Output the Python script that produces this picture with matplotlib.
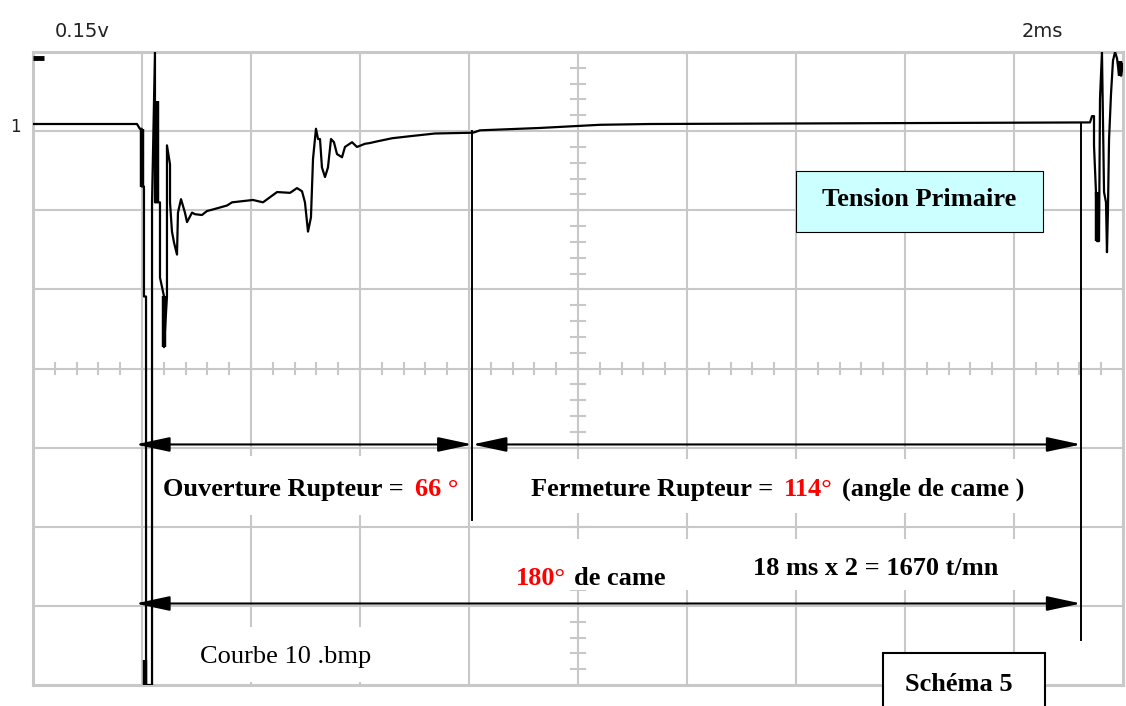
import matplotlib
matplotlib.use('Agg')
import matplotlib.pyplot as plt
from matplotlib.patches import Rectangle
import numpy as np

plt.rcParams['font.family'] = ['Liberation Serif', 'DejaVu Serif']

# ===== oscilloscope trace (in screen divisions: 10 x 8) =====
trace_x = [0.00, 0.954, 0.98, 0.997, 0.997, 1.018, 1.018, 1.037, 1.037, 1.092,
           1.092, 1.119, 1.119, 1.165, 1.165, 1.202, 1.202, 1.229, 1.229, 1.257,
           1.257, 1.275, 1.294, 1.321, 1.330, 1.358, 1.394, 1.413, 1.459, 1.486,
           1.550, 1.596, 1.651, 1.780, 1.826, 2.018, 2.110, 2.239, 2.358, 2.422,
           2.468, 2.495, 2.523, 2.550, 2.569, 2.596, 2.615, 2.633, 2.651, 2.679,
           2.706, 2.734, 2.761, 2.789, 2.835, 2.862, 2.927, 2.972, 3.046, 3.092,
           3.156, 3.294, 3.486, 3.688, 4.037, 4.101, 4.651, 5.202, 5.661, 9.697,
           9.716, 9.734, 9.734, 9.752, 9.761, 9.780, 9.789, 9.807, 9.826, 9.844,
           9.853, 9.862, 9.872, 9.890, 9.908, 9.927, 9.945, 9.963, 9.982, 10.0]
trace_y = [7.09, 7.09, 7.03, 7.03, 6.30, 6.30, 4.91, 4.91, 0.00, 0.00,
           6.10, 8.00, 6.10, 6.10, 5.15, 4.91, 4.27, 4.91, 6.82, 6.58,
           6.10, 5.73, 5.59, 5.44, 5.97, 6.14, 5.97, 5.85, 5.97, 5.95,
           5.94, 5.99, 6.01, 6.06, 6.10, 6.13, 6.10, 6.23, 6.22, 6.28,
           6.24, 6.10, 5.73, 5.91, 6.65, 7.03, 6.90, 6.90, 6.54, 6.42,
           6.54, 6.90, 6.86, 6.71, 6.67, 6.80, 6.86, 6.80, 6.84, 6.85,
           6.87, 6.91, 6.94, 6.97, 6.98, 7.01, 7.04, 7.08, 7.09, 7.11,
           7.19, 7.19, 6.82, 6.23, 5.61, 5.61, 7.41, 8.00, 6.23, 6.10,
           5.47, 6.01, 6.90, 7.47, 7.89, 8.00, 7.92, 7.72, 7.70, 7.85]

# segments épais de la trace (points superposés de l'écran)
thick_x = [1.000, 1.138, 1.200, 1.028, 9.761, 9.970]
thick_y0 = [6.30, 6.10, 4.27, 0.00, 5.61, 7.70]
thick_y1 = [7.03, 7.38, 4.91, 0.32, 6.23, 7.89]

# annotation positions (divisions)
t_open = 0.94      # rupture
t_close = 4.03     # fermeture
t_end = 9.615      # fin de cycle
y_arrow_top = 3.04
y_arrow_bottom = 1.03

fig = plt.figure(figsize=(11.26, 7.06), dpi=100)
ax = fig.add_axes([33 / 1126, 21 / 706, 1090 / 1126, 633 / 706])
ax.set_xlim(0, 10)
ax.set_ylim(0, 8)
ax.set_xticks([])
ax.set_yticks([])
for s in ax.spines.values():
    s.set_color('#c8c8c8')
    s.set_linewidth(2.2)

grid_c = '#c8c8c8'
for gx in range(1, 10):
    ax.axvline(gx, color=grid_c, lw=1.5, zorder=1)
for gy in range(1, 8):
    ax.axhline(gy, color=grid_c, lw=1.5, zorder=1)
# graduations de l'axe central
for mx in np.arange(0.2, 10, 0.2):
    ax.plot([mx, mx], [3.925, 4.075], color=grid_c, lw=1.5, zorder=1)
for my in np.arange(0.2, 8, 0.2):
    ax.plot([4.935, 5.065], [my, my], color=grid_c, lw=1.5, zorder=1)

# fonds blancs derrière les textes
for (x0, x1, y0, y1) in [(1.07, 3.99, 2.15, 2.89), (4.10, 9.56, 2.18, 2.85),
                         (4.28, 9.56, 1.20, 1.84), (1.17, 3.92, 0.04, 0.73)]:
    ax.add_patch(Rectangle((x0, y0), x1 - x0, y1 - y0, facecolor='white',
                           edgecolor='none', zorder=1.5))

ax.plot(trace_x, trace_y, color='black', lw=1.6, zorder=3)
ax.vlines(thick_x, thick_y0, thick_y1, color='black', lw=3.2, zorder=3)
ax.plot([0.0, 0.1], [7.92, 7.92], color='black', lw=3.5, zorder=3, solid_capstyle='butt')

# repères verticaux
ax.plot([t_close, t_close], [7.0, 2.09], color='black', lw=1.4, zorder=3)
ax.plot([t_end, t_end], [7.1, 0.57], color='black', lw=1.4, zorder=3)

arrow_kw = dict(arrowstyle='<|-|>,head_length=2.1,head_width=0.45', color='black',
                lw=1.5, shrinkA=0, shrinkB=0, mutation_scale=10)
ax.annotate('', xy=(t_open, y_arrow_top), xytext=(t_close, y_arrow_top),
            arrowprops=arrow_kw, zorder=4)
ax.annotate('', xy=(t_close, y_arrow_top), xytext=(t_end, y_arrow_top),
            arrowprops=arrow_kw, zorder=4)
ax.annotate('', xy=(t_open, y_arrow_bottom), xytext=(t_end, y_arrow_bottom),
            arrowprops=arrow_kw, zorder=4)

fs = 19
tk = dict(fontsize=fs, fontweight='bold', va='baseline', ha='left', zorder=5)
ax.text(1.193, 2.392, 'Ouverture Rupteur =', color='black', **tk)
ax.text(3.505, 2.392, '66 °', color='red', **tk)
ax.text(4.569, 2.392, 'Fermeture Rupteur =', color='black', **tk)
ax.text(6.890, 2.392, '114°', color='red', **tk)
ax.text(7.422, 2.392, '(angle de came )', color='black', **tk)
ax.text(4.431, 1.266, '180°', color='red', **tk)
ax.text(4.963, 1.266, 'de came', color='black', **tk)
ax.text(6.606, 1.392, '18 ms x 2 = 1670 t/mn', color='black', **tk)
ax.text(1.532, 0.278, 'Courbe 10 .bmp', color='black', fontsize=fs,
        va='baseline', ha='left', zorder=5)

ax.add_patch(Rectangle((7.0, 5.72), 2.266, 0.77, facecolor='#ccffff',
                       edgecolor='black', lw=0.8, zorder=4))
ax.text(8.133, 6.05, 'Tension Primaire', fontsize=fs, fontweight='bold',
        ha='center', va='baseline', zorder=5)

ax.add_patch(Rectangle((7.80, -0.35), 1.48, 0.755, facecolor='white',
                       edgecolor='black', lw=1.5, zorder=4, clip_on=False))
ax.text(8.0, -0.076, 'Schéma 5', fontsize=fs, fontweight='bold',
        ha='left', va='baseline', zorder=5, clip_on=False)

# textes de l'oscilloscope
lab = dict(fontsize=14, color='#222222', family='DejaVu Sans', va='baseline', ha='left')
fig.text(55 / 1126, 1 - 37 / 706, '0.15v', **lab)
fig.text(1022 / 1126, 1 - 37 / 706, '2ms', **lab)
fig.text(10 / 1126, 1 - 132 / 706, '1', fontsize=12, color='#222222',
         family='DejaVu Sans', va='baseline', ha='left')

fig.savefig('out.png', dpi=100, facecolor='white')
